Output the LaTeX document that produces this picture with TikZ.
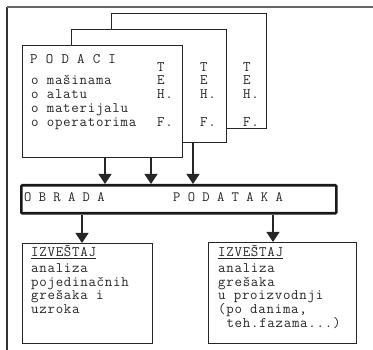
\documentclass[tikz,border=0pt]{standalone}
\usepackage{fontspec}
\setmonofont{Latin Modern Mono}[LetterSpace=5]
\newfontfamily\tighttt{Latin Modern Mono}
\usetikzlibrary{arrows.meta}
\begin{document}
\begin{tikzpicture}[x=1pt,y=-1pt,
  box/.style={draw=black!85, line width=1pt, fill=white, rectangle, inner sep=0pt, anchor=north west},
  tw/.style={font=\fontsize{14.5}{14.5}\selectfont\ttfamily, text=black!85, anchor=base west, inner sep=0pt},
  twt/.style={font=\fontsize{14.2}{14.2}\selectfont\tighttt, text=black!85, anchor=base west, inner sep=0pt},
  arr/.style={draw=black!85, line width=1.2pt, -{Triangle[width=13pt,length=10pt]}},
]
\useasboundingbox (0,0) rectangle (373,350);

% outer frame
\draw[line width=1.2pt, black!80] (7,350) -- (7,7);
\draw[line width=2pt, black!60] (7,7) -- (373,7);

% stacked data sheets
\node[box, minimum width=155pt, minimum height=115pt] (back) at (111,13) {};
\node[box, minimum width=155pt, minimum height=113pt] (mid) at (71,29) {};
\node[box, minimum width=160pt, minimum height=112pt] (front) at (22,45) {};

% T E H. F. columns
\foreach \n/\x in {a/157, b/200, c/243} {
  \node[tw] (t\n) at (\x,72) {T};
  \node[tw] (e\n) at (\x,85) {E};
  \node[tw] (h\n) at (\x,99) {H.};
  \node[tw] (f\n) at (\x,127) {F.};
}

% front sheet text
\node[tw] (podaci) at (30,64) {P O D A C I};
\node[tw] (l1) at (31,85) {o mašinama};
\node[tw] (l2) at (31,99) {o alatu};
\node[tw] (l3) at (31,113) {o materijalu};
\node[tw] (l4) at (31,127) {o operatorima};

% processing bar
\node[draw=black!90, line width=2.6pt, rounded corners=1pt, rectangle, inner sep=0pt,
      minimum width=315pt, minimum height=28pt, anchor=north west] (obrada) at (20,184) {};
\node[twt] (obt) at (24,202) {O B R A D A};
\node[twt] (pdt) at (173,202) {P O D A T A K A};

% report boxes
\node[box, minimum width=130pt, minimum height=100pt] (repl) at (22,243) {};
\node[box, minimum width=148pt, minimum height=101pt] (repr) at (208,242) {};

\node[tw] (rl0) at (31,257) {\underline{IZVEŠTAJ}};
\node[tw] (rl1) at (31,273) {analiza};
\node[tw] (rl2) at (31,286.5) {pojedinačnih};
\node[tw] (rl3) at (31,300) {grešaka i};
\node[tw] (rl4) at (31,313.5) {uzroka};

\node[tw] (rr0) at (218,257) {\underline{IZVEŠTAJ}};
\node[tw] (rr1) at (218,273) {analiza};
\node[tw] (rr2) at (218,286.5) {grešaka};
\node[tw] (rr3) at (218,300) {u proizvodnji};
\node[tw] (rr4) at (218,314) {(po danima,};
\node[tw] (rr5) at (226.3,328) {teh.fazama...)};

% connector columns
\coordinate (c1) at (105,0);
\coordinate (c2) at (151,0);
\coordinate (c3) at (193,0);
\coordinate (c4) at (82,0);
\coordinate (c5) at (273,0);

\draw[arr] (front.south -| c1) -- (obrada.north -| c1);
\draw[arr] (front.south -| c2) -- (obrada.north -| c2);
\draw[arr] (mid.south -| c3) -- (obrada.north -| c3);
\draw[arr] (obrada.south -| c4) -- (repl.north -| c4);
\draw[arr] (obrada.south -| c5) -- (repr.north -| c5);
\end{tikzpicture}
\end{document}
